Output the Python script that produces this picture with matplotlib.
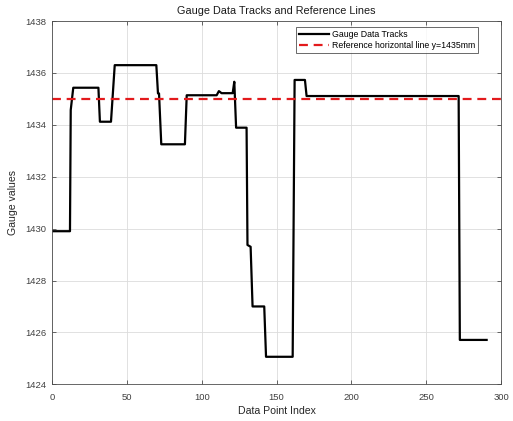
import numpy as np
import matplotlib
matplotlib.use("Agg")
import matplotlib.pyplot as plt

# Gauge track breakpoints (index, value in mm)
idx = [0, 12.0, 12.5, 14.2, 31.0, 32.0, 39.4, 41.9, 69.7, 70.8, 71.5, 73.0,
       88.8, 90.0, 110.0, 111.5, 113.3, 120.7, 121.8, 123.0, 130.0, 130.6,
       132.7, 134.0, 141.8, 143.0, 160.8, 162.1, 169.0, 170.1, 271.7, 272.5,
       290.4]
gauge = [1429.9, 1429.9, 1434.57, 1435.43, 1435.43, 1434.12, 1434.12, 1436.3,
         1436.3, 1435.21, 1435.21, 1433.25, 1433.25, 1435.14, 1435.14, 1435.3,
         1435.22, 1435.22, 1435.66, 1433.89, 1433.89, 1429.37, 1429.3, 1427.0,
         1427.0, 1425.06, 1425.06, 1435.73, 1435.73, 1435.11, 1435.11, 1425.71,
         1425.71]
ref_y = 1435

xticks = [0, 50, 100, 150, 200, 250, 300]
yticks = [1424, 1426, 1428, 1430, 1432, 1434, 1436, 1438]

plt.rcParams['font.family'] = ['Liberation Sans', 'DejaVu Sans']

fig = plt.figure(figsize=(5.13, 4.21), dpi=100)
ax = fig.add_axes([0.1014, 0.0872, 0.8752, 0.8628])

ax.plot(idx, gauge, color='black', linewidth=1.6, label='Gauge Data Tracks')
ax.axhline(ref_y, color='#e31a1c', linewidth=1.6, linestyle=(0, (4, 2.6)),
           label='Reference horizontal line y=1435mm')

ax.set_xlim(0, 300)
ax.set_ylim(1424, 1438)
ax.set_xticks(xticks)
ax.set_yticks(yticks)
ax.grid(True, color='#dcdcdc', linewidth=0.6)
ax.set_axisbelow(True)

for s in ax.spines.values():
    s.set_color('#4d4d4d')
    s.set_linewidth(0.6)
ax.tick_params(direction='in', top=True, right=True, length=3, width=0.6,
               color='#4d4d4d', labelsize=6.8, labelcolor='#404040')
ax.tick_params(axis='x', pad=6)
ax.tick_params(axis='y', pad=4)

ax.set_title('Gauge Data Tracks and Reference Lines', fontsize=7.8,
             color='#1a1a1a', pad=5)
ax.set_xlabel('Data Point Index', fontsize=7.6, color='#262626', labelpad=3)
ax.set_ylabel('Gauge values', fontsize=7.6, color='#262626', labelpad=5)

leg = ax.legend(loc='upper right', bbox_to_anchor=(0.955, 0.99), fontsize=6.3,
                frameon=True, fancybox=False, edgecolor='#262626',
                handlelength=3.4, borderpad=0.3, labelspacing=0.25,
                handletextpad=0.4, borderaxespad=0.3)
leg.get_frame().set_linewidth(0.6)

fig.savefig('out.png', dpi=100)
